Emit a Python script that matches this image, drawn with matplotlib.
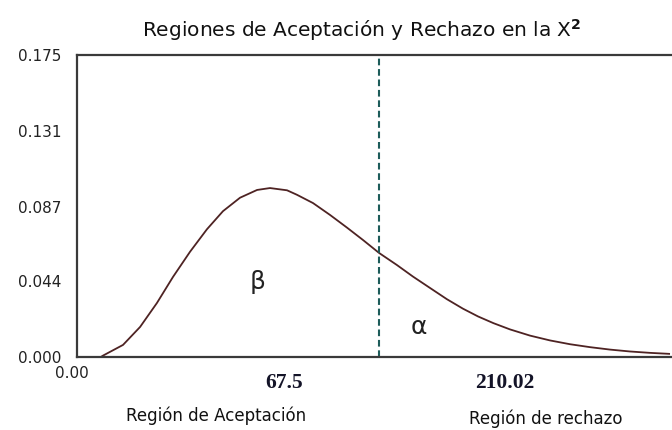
import matplotlib
matplotlib.use("Agg")
import matplotlib.pyplot as plt

plt.rcParams['font.family'] = ['DejaVu Sans']

# Density curve of the statistic (x in axis units, y = density)
x_vals = [12.0, 13.1, 23.2, 31.8, 40.3, 48.4, 57.0, 65.5, 73.6, 82.2, 90.8, 97.3,
          105.9, 110.9, 119.0, 127.6, 136.1, 144.2, 152.3, 161.3, 169.4, 178.0,
          186.5, 194.6, 202.2, 210.0, 218.3, 228.4, 238.5, 248.6, 258.7, 268.7,
          278.8, 288.9, 299.0]
density = [0.0000, 0.0008, 0.0070, 0.0174, 0.0313, 0.0464, 0.0610, 0.0740, 0.0845,
           0.0923, 0.0968, 0.0979, 0.0966, 0.0940, 0.0892, 0.0823, 0.0750, 0.0678,
           0.0603, 0.0533, 0.0466, 0.0400, 0.0335, 0.0280, 0.0235, 0.0196, 0.0160,
           0.0124, 0.0096, 0.0074, 0.0057, 0.0043, 0.0032, 0.0024, 0.0018]

critical_x = 152.3
y_ticks = [0.000, 0.044, 0.087, 0.131, 0.175]
y_tick_labels = ["0.000", "0.044", "0.087", "0.131", "0.175"]
x_origin_label = "0.00"
value_labels = ["67.5", "210.02"]
region_labels = ["Región de Aceptación", "Región de rechazo"]

W, H = 672, 430
fig = plt.figure(figsize=(W / 100, H / 100), dpi=100)
fig.patch.set_facecolor("white")

def fx(px):
    return px / W

def fy(py):
    return 1 - py / H

ax = fig.add_axes([fx(77), fy(357), 1 - fx(77), fy(55) - fy(357)])
ax.set_xlim(0, 300)
ax.set_ylim(0, 0.175)

ax.plot(x_vals, density, color="#4e2323", lw=1.3, solid_capstyle="butt",
        clip_on=False)
ax.axvline(critical_x, color="#1d5c5a", lw=1.5, ls=(0, (3.2, 1.8)))

for side in ("left", "top", "bottom"):
    ax.spines[side].set_color("#3a3a3a")
    ax.spines[side].set_linewidth(1.6)
ax.spines["right"].set_visible(False)

ax.set_yticks(y_ticks)
ax.set_yticklabels(y_tick_labels, fontsize=11, color="#222222")
ax.set_xticks([])
ax.tick_params(axis="y", length=0, pad=11)

ax.text(90.8, 0.0435, "β", fontsize=18, ha="center", va="center", color="#222222")
ax.text(172.4, 0.0174, "α", fontsize=18, ha="center", va="center", color="#222222")

fig.text(fx(72), fy(373), x_origin_label, ha="center", va="center", fontsize=11,
         color="#222222")

fig.text(fx(362), fy(37), "Regiones de Aceptación y Rechazo en la X$^{\\mathbf{2}}$",
         ha="center", va="baseline", fontsize=14.5, color="#111111")

fig.text(fx(284), fy(383), value_labels[0], ha="center", va="center", fontsize=15.5,
         fontweight="bold", family=["Liberation Serif"], color="#141428")
fig.text(fx(505), fy(383), value_labels[1], ha="center", va="center", fontsize=15.5,
         fontweight="bold", family=["Liberation Serif"], color="#141428")
fig.text(fx(216), fy(416), region_labels[0], ha="center", va="center", fontsize=12,
         color="#111111")
fig.text(fx(546), fy(419), region_labels[1], ha="center", va="center", fontsize=12,
         color="#111111")

fig.savefig("out.png", dpi=100, facecolor="white")
